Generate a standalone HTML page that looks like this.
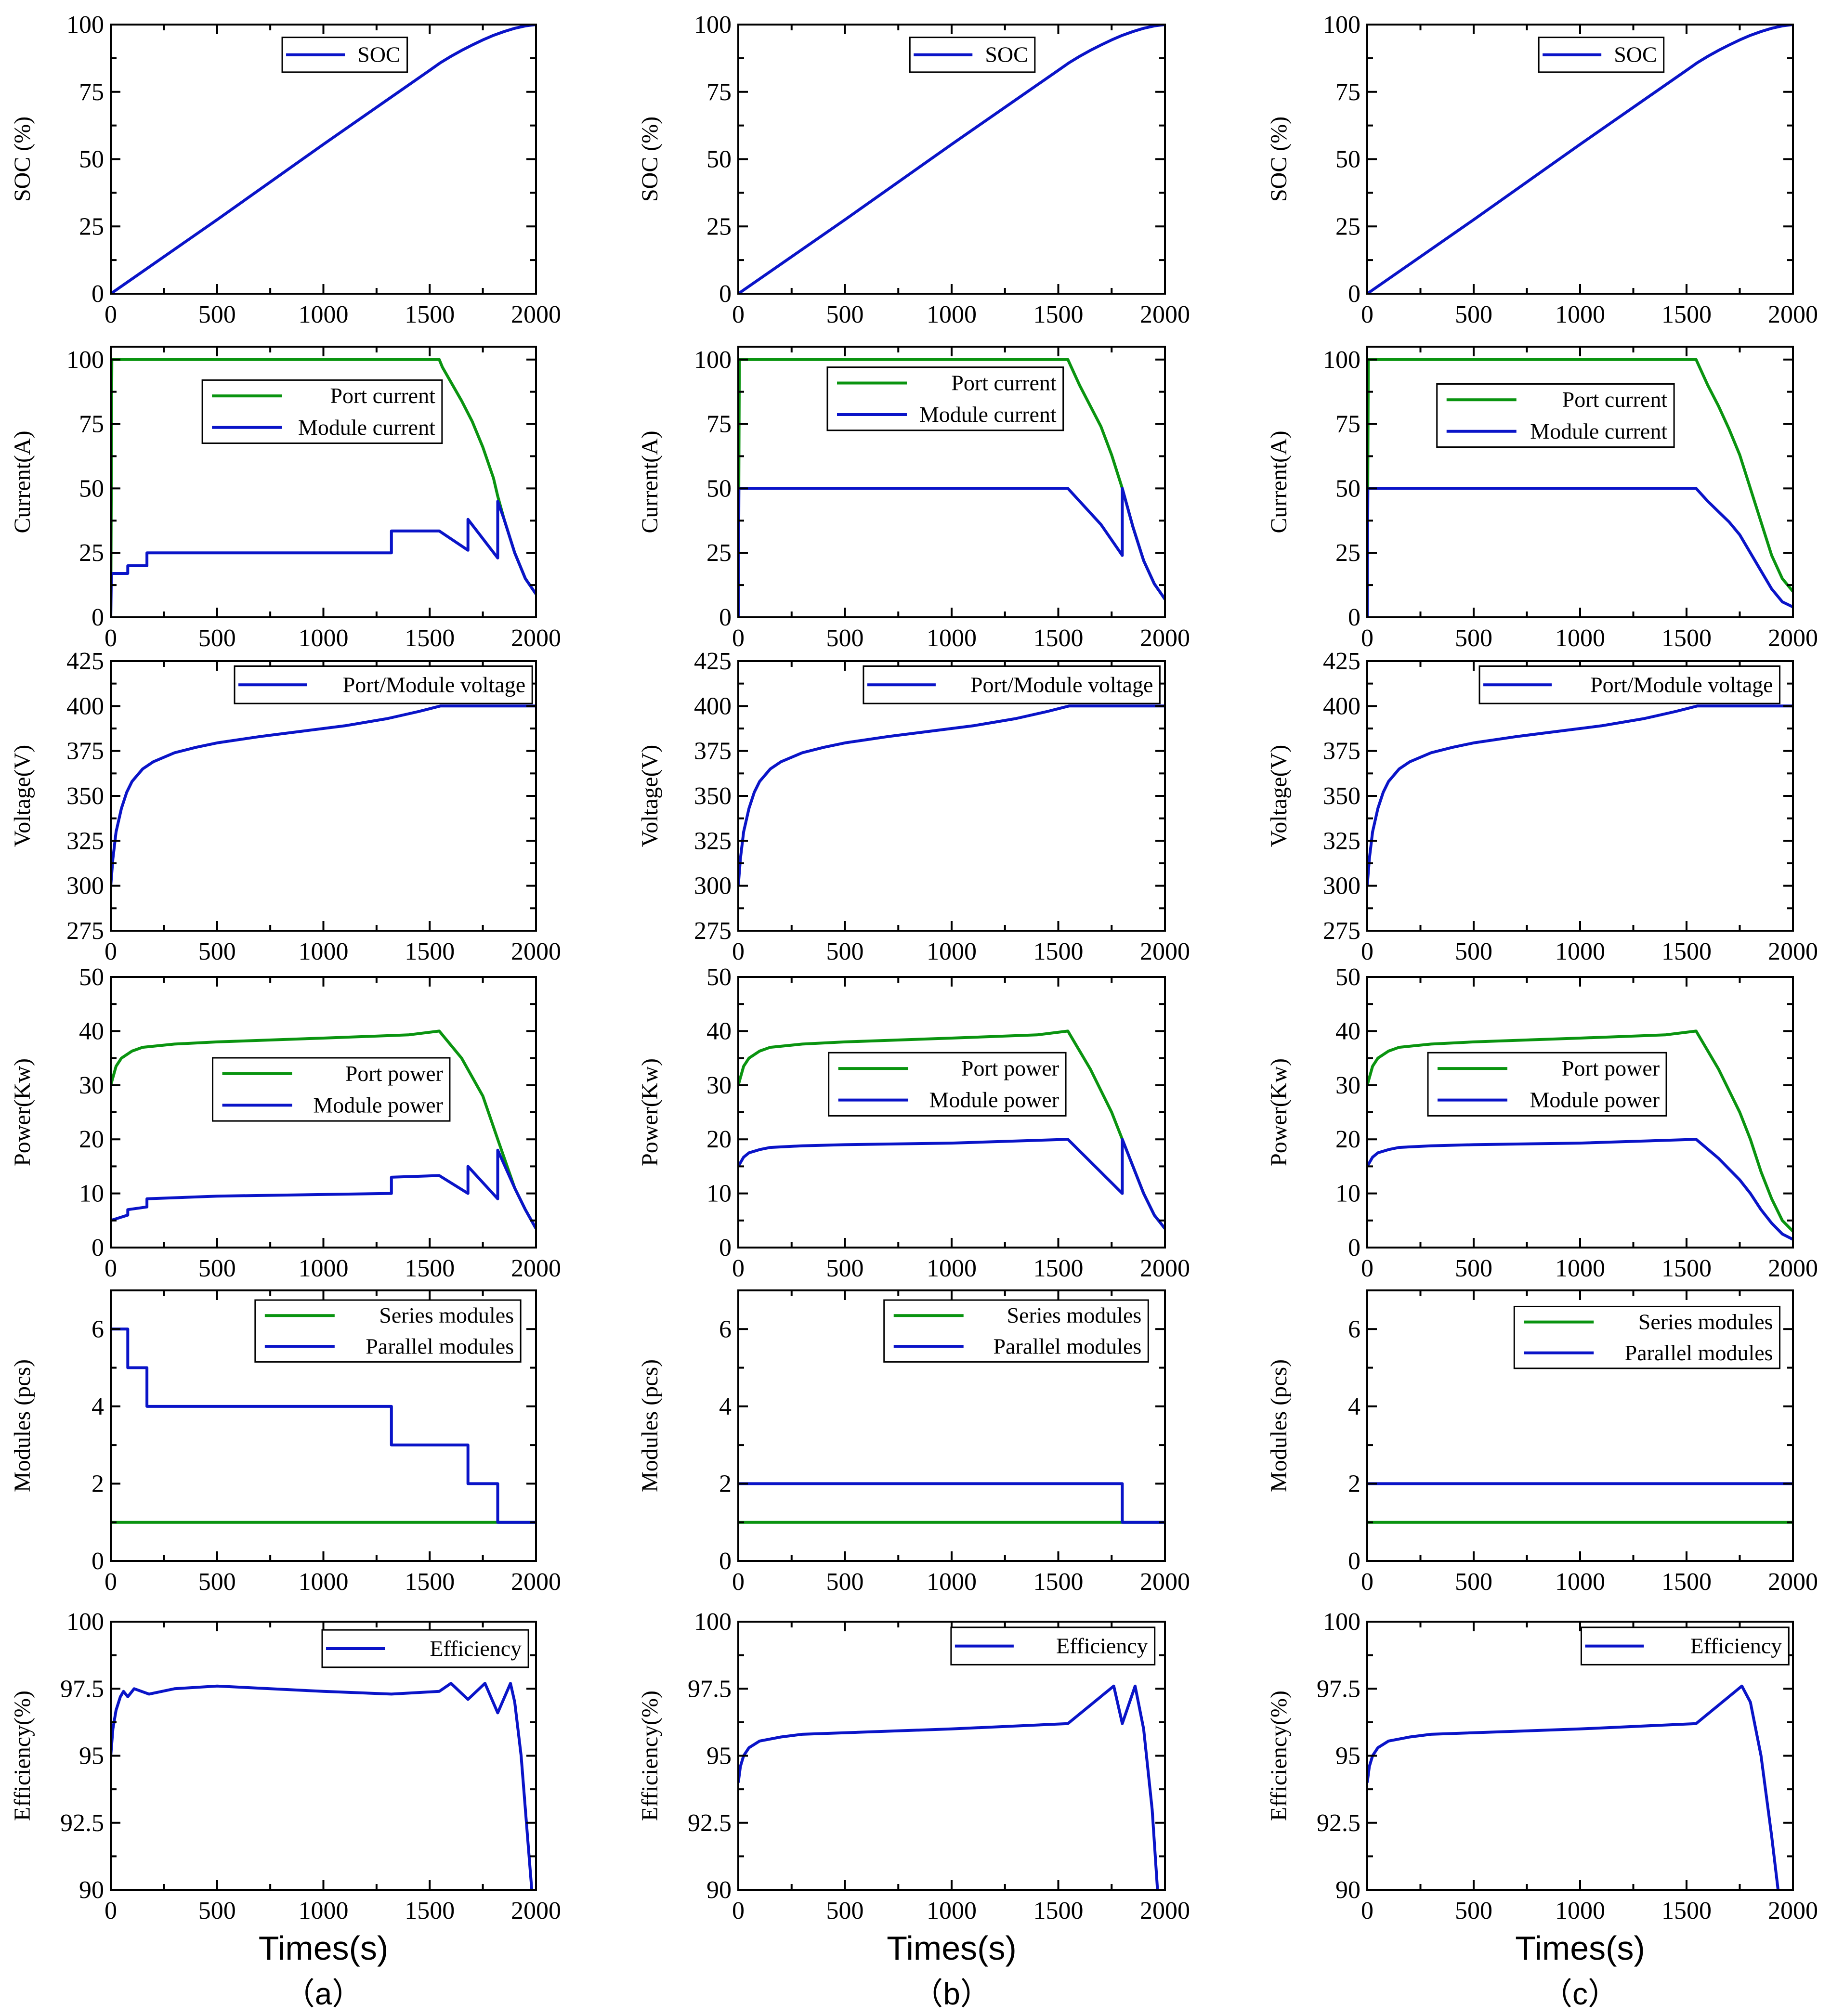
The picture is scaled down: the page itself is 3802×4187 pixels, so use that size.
<!DOCTYPE html>
<html><head><meta charset="utf-8"><style>
html,body{margin:0;padding:0;background:#fff;}
svg{display:block;}
text{font-family:"Liberation Serif",serif;fill:#000;}
</style></head><body>
<svg id="fig" width="3802" height="4187" viewBox="0 0 3802 4187" xmlns="http://www.w3.org/2000/svg"></svg>
<script>
// ---- data arrays ----
const xTicks = [0,500,1000,1500,2000];
const socT = [0,500,1000,1300,1500,1550,1600,1650,1700,1750,1800,1850,1900,1950,2000];
const socV = [0,27.5,55.5,72,83,85.8,88.2,90.4,92.4,94.3,96,97.4,98.6,99.5,100];
const volT = [0,10,25,50,75,100,150,200,300,400,500,700,900,1100,1300,1450,1550,2000];
const volV = [300,315,330,343,352,358,365,369,374,377,379.5,383,386,389,393,397,400,400];

const curPortAT = [0,5,1545,1560,1650,1700,1750,1800,1820,1850,1900,1950,2000];
const curPortAV = [0,100,100,97,84,76,66,54,47,38,25,15,9];
const curModAT = [0,3,80,80,170,170,1320,1320,1545,1680,1680,1820,1820,1850,1900,1950,2000];
const curModAV = [0,17,17,20,20,25,25,33.5,33.5,26,38,23,45,38,25,15,9];
const curPortBT = [0,5,1545,1600,1700,1750,1800,1850,1900,1950,2000];
const curPortBV = [0,100,100,90,74,63,50,35,22,13,7];
const curModBT = [0,3,1545,1700,1800,1800,1850,1900,1950,2000];
const curModBV = [0,50,50,36,24,50,35,22,13,7];
const curPortCT = [0,5,1545,1600,1650,1700,1750,1800,1850,1900,1950,2000];
const curPortCV = [0,100,100,90,82,73,63,50,37,24,15,10];
const curModCT = [0,3,1545,1600,1650,1700,1750,1800,1850,1900,1950,2000];
const curModCV = [0,50,50,45,41,37,32,25,18,11,6,4];

const pwPortAT = [0,25,50,100,150,300,500,1000,1400,1545,1650,1750,1820,1900,1950,2000];
const pwPortAV = [30,33.5,35,36.3,37,37.6,38,38.7,39.3,40,35,28,20,11,7,3.5];
const pwModAT = [0,80,80,170,170,500,1320,1320,1545,1680,1680,1820,1820,1900,1950,2000];
const pwModAV = [5,6,7,7.5,9,9.5,10,13,13.3,10,15,9,18,11,7,3.5];
const pwPortBT = [0,25,50,100,150,300,500,1000,1400,1545,1650,1750,1800,1900,1950,2000];
const pwPortBV = [30,33.5,35,36.3,37,37.6,38,38.7,39.3,40,33,25,20,10,6,3.5];
const pwModBT = [0,25,50,100,150,300,500,1000,1545,1800,1800,1900,1950,2000];
const pwModBV = [15,16.7,17.5,18.1,18.5,18.8,19,19.3,20,10,20,10,6,3.5];
const pwPortCT = [0,25,50,100,150,300,500,1000,1400,1545,1650,1750,1800,1850,1900,1950,2000];
const pwPortCV = [30,33.5,35,36.3,37,37.6,38,38.7,39.3,40,33,25,20,14,9,5,3];
const pwModCT = [0,25,50,100,150,300,500,1000,1545,1650,1750,1800,1850,1900,1950,2000];
const pwModCV = [15,16.7,17.5,18.1,18.5,18.8,19,19.3,20,16.5,12.5,10,7,4.5,2.5,1.5];

const serT = [0,2000];
const serV = [1,1];
const parAT = [0,80,80,170,170,1320,1320,1680,1680,1820,1820,2000];
const parAV = [6,6,5,5,4,4,3,3,2,2,1,1];
const parBT = [0,1800,1800,2000];
const parBV = [2,2,1,1];
const parCT = [0,2000];
const parCV = [2,2];

const effAT = [0,10,25,45,60,80,110,180,300,500,1000,1320,1545,1600,1680,1760,1820,1880,1900,1930,1960,1980];
const effAV = [95,96,96.7,97.2,97.4,97.2,97.5,97.3,97.5,97.6,97.4,97.3,97.4,97.7,97.1,97.7,96.6,97.7,97,95,92,90];
const effBT = [0,10,25,50,100,200,300,1000,1545,1760,1800,1860,1900,1940,1965];
const effBV = [94,94.6,95,95.3,95.55,95.7,95.8,96,96.2,97.6,96.2,97.6,96,93,90];
const effCT = [0,10,25,50,100,200,300,1000,1545,1760,1800,1850,1900,1930];
const effCV = [94,94.6,95,95.3,95.55,95.7,95.8,96,96.2,97.6,97,95,92,90];

// ---- layout ----
const S = 2.676;
const cols = [[230,1113],[1533,2419],[2839,3723]];
const rows = [[51,610],[720,1282],[1373,1933],[2029,2591],[2680,3242],[3368,3925]];
const GREEN = "#0a9410", BLUE = "#0a14c8";
const svg = document.getElementById('fig');
const NS = "http://www.w3.org/2000/svg";
function mk(tag, attrs, parent){ const e=document.createElementNS(NS,tag); for(const k in attrs) e.setAttribute(k,attrs[k]); (parent||svg).appendChild(e); return e; }

const rowSpecs = [
 {name:'soc', lab:'SOC (%)', min:0, max:100, ticks:[0,25,50,75,100], minor:12.5, fmt:v=>v},
 {name:'current', lab:'Current(A)', min:0, max:105, ticks:[0,25,50,75,100], minor:12.5, fmt:v=>v},
 {name:'voltage', lab:'Voltage(V)', min:275, max:425, ticks:[275,300,325,350,375,400,425], minor:12.5, fmt:v=>v},
 {name:'power', lab:'Power(Kw)', min:0, max:50, ticks:[0,10,20,30,40,50], minor:5, fmt:v=>v},
 {name:'modules', lab:'Modules (pcs)', min:0, max:7, ticks:[0,2,4,6], minor:1, fmt:v=>v},
 {name:'efficiency', lab:'Efficiency(%)', min:90, max:100, ticks:[90,92.5,95,97.5,100], minor:1.25, fmt:v=>v},
];
const series = [
 [[{t:socT,v:socV,c:BLUE,l:'SOC'}],[{t:socT,v:socV,c:BLUE,l:'SOC'}],[{t:socT,v:socV,c:BLUE,l:'SOC'}]],
 [[{t:curPortAT,v:curPortAV,c:GREEN,l:'Port current'},{t:curModAT,v:curModAV,c:BLUE,l:'Module current'}],
  [{t:curPortBT,v:curPortBV,c:GREEN,l:'Port current'},{t:curModBT,v:curModBV,c:BLUE,l:'Module current'}],
  [{t:curPortCT,v:curPortCV,c:GREEN,l:'Port current'},{t:curModCT,v:curModCV,c:BLUE,l:'Module current'}]],
 [[{t:volT,v:volV,c:BLUE,l:'Port/Module voltage'}],[{t:volT,v:volV,c:BLUE,l:'Port/Module voltage'}],[{t:volT,v:volV,c:BLUE,l:'Port/Module voltage'}]],
 [[{t:pwPortAT,v:pwPortAV,c:GREEN,l:'Port power'},{t:pwModAT,v:pwModAV,c:BLUE,l:'Module power'}],
  [{t:pwPortBT,v:pwPortBV,c:GREEN,l:'Port power'},{t:pwModBT,v:pwModBV,c:BLUE,l:'Module power'}],
  [{t:pwPortCT,v:pwPortCV,c:GREEN,l:'Port power'},{t:pwModCT,v:pwModCV,c:BLUE,l:'Module power'}]],
 [[{t:serT,v:serV,c:GREEN,l:'Series modules'},{t:parAT,v:parAV,c:BLUE,l:'Parallel modules'}],
  [{t:serT,v:serV,c:GREEN,l:'Series modules'},{t:parBT,v:parBV,c:BLUE,l:'Parallel modules'}],
  [{t:serT,v:serV,c:GREEN,l:'Series modules'},{t:parCT,v:parCV,c:BLUE,l:'Parallel modules'}]],
 [[{t:effAT,v:effAV,c:BLUE,l:'Efficiency'}],[{t:effBT,v:effBV,c:BLUE,l:'Efficiency'}],[{t:effCT,v:effCV,c:BLUE,l:'Efficiency'}]],
];
const legends = [
 [[219,29,316,56],[706,29,803,56],[1194,29,1291,56]],
 [[157,295,343,344],[642,285,825,334],[1115,298,1299,347]],
 [[182,517,413,546],[670,517,900,546],[1148,517,1381,546]],
 [[165,821,349,870],[643,817,827,866],[1108,817,1293,866]],
 [[198,1009,404,1057],[686,1009,891,1057],[1175,1014,1381,1062]],
 [[250,1265,410,1294],[738,1263,896,1292],[1227,1263,1388,1292]],
];
const colLetters = ['a','b','c'];

rows.forEach((r,ri)=>{
 const spec = rowSpecs[ri];
 cols.forEach((c,ci)=>{
  const g = mk('g',{});
  
  
  const [x0,x1]=c,[y0,y1]=r;
  const xs = t=> x0+(t/2000)*(x1-x0);
  const ys = v=> y1-(v-spec.min)/(spec.max-spec.min)*(y1-y0);
  const clip = mk('clipPath',{id:'cl'+ri+ci},g);
  mk('rect',{x:x0,y:y0,width:x1-x0,height:y1-y0},clip);
  series[ri][ci].forEach(s=>{
   const p = s.t.map((t,i)=>(i?'L':'M')+xs(t).toFixed(1)+' '+ys(s.v[i]).toFixed(1)).join(' ');
   const path = mk('path',{d:p,fill:'none',stroke:s.c,'stroke-width':6,'stroke-linejoin':'round','clip-path':'url(#cl'+ri+ci+')'},g);
   
   
  });
  const fr = mk('rect',{x:x0,y:y0,width:x1-x0,height:y1-y0,fill:'none',stroke:'#000','stroke-width':4},g);
  
  
  for(let t=0;t<=2000;t+=250){
   const L = t%500===0?20:12, x=xs(t);
   mk('line',{x1:x,y1:y1,x2:x,y2:y1-L,stroke:'#000','stroke-width':4},g);
   mk('line',{x1:x,y1:y0,x2:x,y2:y0+L,stroke:'#000','stroke-width':4},g);
  }
  xTicks.forEach(t=>{
   const tx = mk('text',{x:xs(t),y:y1+60,'text-anchor':'middle','font-size':52},g);
   tx.textContent=t;
   
   
  });
  for(let v=spec.min; v<=spec.max+1e-9; v+=spec.minor){
   const major = spec.ticks.some(tk=>Math.abs(tk-v)<1e-6), L=major?20:12, y=ys(v);
   mk('line',{x1:x0,y1:y,x2:x0+L,y2:y,stroke:'#000','stroke-width':4},g);
   mk('line',{x1:x1,y1:y,x2:x1-L,y2:y,stroke:'#000','stroke-width':4},g);
  }
  spec.ticks.forEach(v=>{
   const tx = mk('text',{x:x0-14,y:ys(v)+17,'text-anchor':'end','font-size':52},g);
   tx.textContent=spec.fmt(v);
   
   
  });
  const yl = mk('text',{x:0,y:0,'text-anchor':'middle','font-size':48,transform:'translate('+(x0-168)+','+((y0+y1)/2)+') rotate(-90)'},g);
  yl.textContent=spec.lab;
  
  
  const lb = legends[ri][ci].map(v=>v*S);
  const lg = mk('g',{},g);
  
  
  mk('rect',{x:lb[0],y:lb[1],width:lb[2]-lb[0],height:lb[3]-lb[1],fill:'#fff',stroke:'#000','stroke-width':3},lg);
  const ss = series[ri][ci]; const n=ss.length; const h=(lb[3]-lb[1])/n;
  ss.forEach((s,i)=>{
   const cy = lb[1]+h*(i+0.5);
   const twoLine = n>1;
   const lx1 = lb[0]+(twoLine?20:8), lx2 = lb[0]+(twoLine?165:(ri===2?150:130));
   mk('line',{x1:lx1,y1:cy,x2:lx2,y2:cy,stroke:s.c,'stroke-width':6},lg);
   const tx = mk('text',{x:lb[2]-14,y:cy+15,'text-anchor':'end','font-size':46},lg);
   tx.textContent=s.l;
   
   
  });
 });
});
cols.forEach((c,ci)=>{
 const cx=(c[0]+c[1])/2;
 const t1 = mk('text',{x:cx,y:4070,'text-anchor':'middle','font-size':70,style:'font-family:"Liberation Sans",sans-serif'});
 t1.textContent='Times(s)';
 
 
 const t2 = mk('text',{x:cx,y:4163,'text-anchor':'middle','font-size':64,style:'font-family:"Liberation Sans","Noto Sans CJK SC",sans-serif'});
 t2.textContent='（'+colLetters[ci]+'）';
 
 
});
</script>
</body></html>
